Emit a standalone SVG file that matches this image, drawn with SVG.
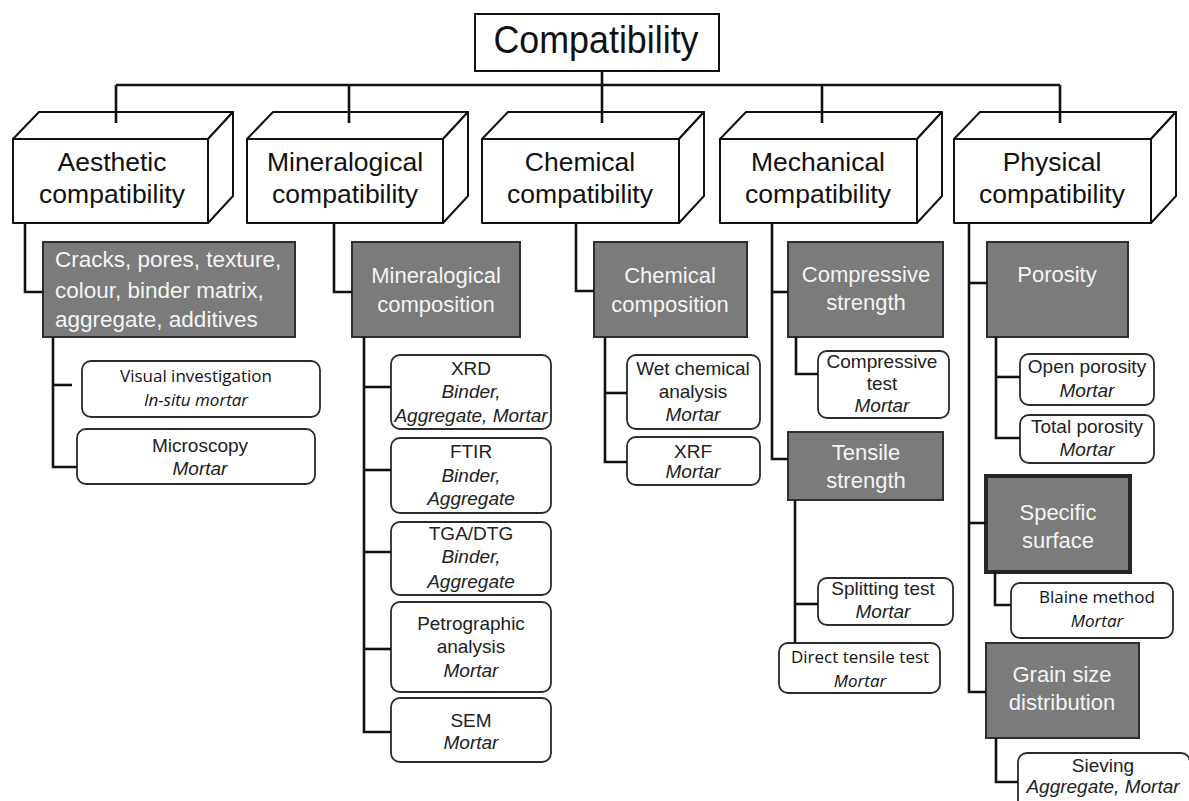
<svg xmlns="http://www.w3.org/2000/svg" width="1189" height="801" viewBox="0 0 1189 801">
  <defs>
    <style>
      .box3d { fill: #ffffff; stroke: #111111; stroke-width: 2; stroke-linejoin: round; }
      .gray { fill: #7b7b7b; stroke: #2e2e2e; stroke-width: 2; }
      .gray-heavy { fill: #7b7b7b; stroke: #262626; stroke-width: 4; }
      .leaf { fill: #ffffff; stroke: #2b2b2b; stroke-width: 1.8; }
      .wire { fill: none; stroke: #111111; stroke-width: 2.6; stroke-linejoin: miter; }
      .title { font-family: "Liberation Sans", Arial, sans-serif; font-size: 38px; fill: #111111; text-anchor: middle; }
      .t1 { font-family: "Liberation Sans", Arial, sans-serif; font-size: 26.5px; fill: #111111; text-anchor: middle; }
      .tg { font-family: "Liberation Sans", Arial, sans-serif; font-size: 22px; fill: #f4f4f4; text-anchor: middle; }
      .tgl { font-family: "Liberation Sans", Arial, sans-serif; font-size: 22.5px; fill: #f4f4f4; }
      .tl { font-family: "Liberation Sans", Arial, sans-serif; font-size: 19px; fill: #222222; text-anchor: middle; }
      .th { font-family: "Open Sans", "Liberation Sans", sans-serif; font-size: 17px; fill: #111111; text-anchor: middle; }
      .it { font-style: italic; }
    </style>
  </defs>
  <rect width="1189" height="801" fill="#ffffff"/>

  <!-- root -->
  <g id="compatibility">
    <rect x="475" y="14" width="244" height="57" fill="#ffffff" stroke="#111111" stroke-width="2"/>
    <text class="title" x="596" y="53" textLength="205" lengthAdjust="spacingAndGlyphs">Compatibility</text>
  </g>

  <!-- first level: extruded boxes -->
  <g id="aesthetic">
    <rect class="box3d" x="13" y="139" width="195" height="84"/>
    <polygon class="box3d" points="13,139 39,112 233,112 208,139"/>
    <polygon class="box3d" points="208,139 233,112 233,196 208,223"/>
    <text class="t1" x="112" y="171">Aesthetic</text>
    <text class="t1" x="112" y="203">compatibility</text>
  </g>
  <g id="mineralogical">
    <rect class="box3d" x="247" y="139" width="196" height="84"/>
    <polygon class="box3d" points="247,139 273,112 468,112 443,139"/>
    <polygon class="box3d" points="443,139 468,112 468,196 443,223"/>
    <text class="t1" x="345" y="171">Mineralogical</text>
    <text class="t1" x="345" y="203">compatibility</text>
  </g>
  <g id="chemical">
    <rect class="box3d" x="482" y="139" width="197" height="84"/>
    <polygon class="box3d" points="482,139 508,112 704,112 679,139"/>
    <polygon class="box3d" points="679,139 704,112 704,196 679,223"/>
    <text class="t1" x="580" y="171">Chemical</text>
    <text class="t1" x="580" y="203">compatibility</text>
  </g>
  <g id="mechanical">
    <rect class="box3d" x="720" y="139" width="197" height="84"/>
    <polygon class="box3d" points="720,139 746,112 942,112 917,139"/>
    <polygon class="box3d" points="917,139 942,112 942,196 917,223"/>
    <text class="t1" x="818" y="171">Mechanical</text>
    <text class="t1" x="818" y="203">compatibility</text>
  </g>
  <g id="physical">
    <rect class="box3d" x="954" y="139" width="197" height="84"/>
    <polygon class="box3d" points="954,139 980,112 1176,112 1151,139"/>
    <polygon class="box3d" points="1151,139 1176,112 1176,196 1151,223"/>
    <text class="t1" x="1052" y="171">Physical</text>
    <text class="t1" x="1052" y="203">compatibility</text>
  </g>

  <!-- aesthetic branch -->
  <g id="aesthetic-properties">
    <rect class="gray" x="43" y="242" width="252" height="95"/>
    <text class="tgl" x="55" y="267">Cracks, pores, texture,</text>
    <text class="tgl" x="55" y="298">colour, binder matrix,</text>
    <text class="tgl" x="55" y="327">aggregate, additives</text>
  </g>
  <g id="visual-investigation">
    <rect class="leaf" x="82" y="361" width="238" height="56" rx="9"/>
    <text class="th" x="196" y="382">Visual investigation</text>
    <text class="th it" x="196" y="406">In-situ mortar</text>
  </g>
  <g id="microscopy">
    <rect class="leaf" x="77" y="429" width="238" height="55" rx="9"/>
    <text class="tl" x="200" y="452">Microscopy</text>
    <text class="tl it" x="200" y="475">Mortar</text>
  </g>

  <!-- mineralogical branch -->
  <g id="mineralogical-composition">
    <rect class="gray" x="352" y="242" width="168" height="95"/>
    <text class="tg" x="436" y="283">Mineralogical</text>
    <text class="tg" x="436" y="312">composition</text>
  </g>
  <g id="xrd">
    <rect class="leaf" x="391" y="355" width="160" height="74" rx="9"/>
    <text class="tl" x="471" y="375">XRD</text>
    <text class="tl it" x="471" y="398">Binder,</text>
    <text class="tl it" x="471" y="422">Aggregate, Mortar</text>
  </g>
  <g id="ftir">
    <rect class="leaf" x="391" y="438" width="160" height="75" rx="9"/>
    <text class="tl" x="471" y="458">FTIR</text>
    <text class="tl it" x="471" y="482">Binder,</text>
    <text class="tl it" x="471" y="505">Aggregate</text>
  </g>
  <g id="tga-dtg">
    <rect class="leaf" x="391" y="522" width="160" height="73" rx="9"/>
    <text class="tl" x="471" y="540">TGA/DTG</text>
    <text class="tl it" x="471" y="563">Binder,</text>
    <text class="tl it" x="471" y="588">Aggregate</text>
  </g>
  <g id="petrographic">
    <rect class="leaf" x="391" y="602" width="160" height="90" rx="9"/>
    <text class="tl" x="471" y="630">Petrographic</text>
    <text class="tl" x="471" y="653">analysis</text>
    <text class="tl it" x="471" y="677">Mortar</text>
  </g>
  <g id="sem">
    <rect class="leaf" x="391" y="698" width="160" height="64" rx="9"/>
    <text class="tl" x="471" y="727">SEM</text>
    <text class="tl it" x="471" y="749">Mortar</text>
  </g>

  <!-- chemical branch -->
  <g id="chemical-composition">
    <rect class="gray" x="594" y="242" width="153" height="95"/>
    <text class="tg" x="670" y="283">Chemical</text>
    <text class="tg" x="670" y="312">composition</text>
  </g>
  <g id="wet-chemical">
    <rect class="leaf" x="627" y="355" width="133" height="74" rx="9"/>
    <text class="tl" x="693" y="375">Wet chemical</text>
    <text class="tl" x="693" y="398">analysis</text>
    <text class="tl it" x="693" y="421">Mortar</text>
  </g>
  <g id="xrf">
    <rect class="leaf" x="627" y="437" width="133" height="48" rx="9"/>
    <text class="tl" x="693" y="458">XRF</text>
    <text class="tl it" x="693" y="478">Mortar</text>
  </g>

  <!-- mechanical branch -->
  <g id="compressive-strength">
    <rect class="gray" x="788" y="242" width="155" height="95"/>
    <text class="tg" x="866" y="282">Compressive</text>
    <text class="tg" x="866" y="310">strength</text>
  </g>
  <g id="compressive-test">
    <rect class="leaf" x="818" y="351" width="131" height="67" rx="9"/>
    <text class="tl" x="882" y="368">Compressive</text>
    <text class="tl" x="882" y="390">test</text>
    <text class="tl it" x="882" y="412">Mortar</text>
  </g>
  <g id="tensile-strength">
    <rect class="gray" x="788" y="432" width="155" height="68"/>
    <text class="tg" x="866" y="460">Tensile</text>
    <text class="tg" x="866" y="488">strength</text>
  </g>
  <g id="splitting-test">
    <rect class="leaf" x="818" y="578" width="135" height="47" rx="9"/>
    <text class="tl" x="883" y="595">Splitting test</text>
    <text class="tl it" x="883" y="618">Mortar</text>
  </g>
  <g id="direct-tensile-test">
    <rect class="leaf" x="779" y="643" width="161" height="50" rx="9"/>
    <text class="th" x="860" y="663">Direct tensile test</text>
    <text class="th it" x="860" y="687">Mortar</text>
  </g>

  <!-- physical branch -->
  <g id="porosity">
    <rect class="gray" x="987" y="242" width="141" height="95"/>
    <text class="tg" x="1057" y="282">Porosity</text>
  </g>
  <g id="open-porosity">
    <rect class="leaf" x="1020" y="354" width="134" height="51" rx="9"/>
    <text class="tl" x="1087" y="373">Open porosity</text>
    <text class="tl it" x="1087" y="397">Mortar</text>
  </g>
  <g id="total-porosity">
    <rect class="leaf" x="1020" y="415" width="134" height="48" rx="9"/>
    <text class="tl" x="1087" y="433">Total porosity</text>
    <text class="tl it" x="1087" y="456">Mortar</text>
  </g>
  <g id="specific-surface">
    <rect class="gray-heavy" x="986" y="476" width="144" height="96"/>
    <text class="tg" x="1058" y="520">Specific</text>
    <text class="tg" x="1058" y="548">surface</text>
  </g>
  <g id="blaine-method">
    <rect class="leaf" x="1011" y="583" width="162" height="55" rx="9"/>
    <text class="th" x="1097" y="603">Blaine method</text>
    <text class="th it" x="1097" y="627">Mortar</text>
  </g>
  <g id="grain-size-distribution">
    <rect class="gray" x="986" y="643" width="153" height="95"/>
    <text class="tg" x="1062" y="682">Grain size</text>
    <text class="tg" x="1062" y="710">distribution</text>
  </g>
  <g id="sieving">
    <rect class="leaf" x="1018" y="753" width="172" height="62" rx="9"/>
    <text class="tl" x="1103" y="772">Sieving</text>
    <text class="tl it" x="1103" y="793">Aggregate, Mortar</text>
  </g>

  <!-- connectors -->
  <g id="connectors" class="wire">
    <!-- root to first level -->
    <path d="M116,85 H1060"/>
    <path d="M602,71 V123"/>
    <path d="M116,85 V123"/>
    <path d="M349,85 V123"/>
    <path d="M822,85 V123"/>
    <path d="M1060,85 V123"/>
    <!-- aesthetic -->
    <path d="M25,223 V292 H43"/>
    <path d="M53,337 V467 H77"/>
    <path d="M53,385 H72"/>
    <!-- mineralogical -->
    <path d="M334,223 V292 H352"/>
    <path d="M364,337 V732 H391"/>
    <path d="M364,387 H391"/>
    <path d="M364,470 H391"/>
    <path d="M364,552 H391"/>
    <path d="M364,649 H391"/>
    <!-- chemical -->
    <path d="M576,223 V291 H594"/>
    <path d="M605,337 V462 H627"/>
    <path d="M605,393 H627"/>
    <!-- mechanical -->
    <path d="M772,223 V459 H788"/>
    <path d="M772,292 H788"/>
    <path d="M796,337 V374 H818"/>
    <path d="M795,500 V643"/>
    <path d="M795,604 H818"/>
    <!-- physical -->
    <path d="M969,223 V692 H986"/>
    <path d="M969,283 H987"/>
    <path d="M969,523 H986"/>
    <path d="M996,337 V438 H1020"/>
    <path d="M996,377 H1020"/>
    <path d="M995,572 V605 H1011"/>
    <path d="M996,738 V782 H1018"/>
  </g>
</svg>
